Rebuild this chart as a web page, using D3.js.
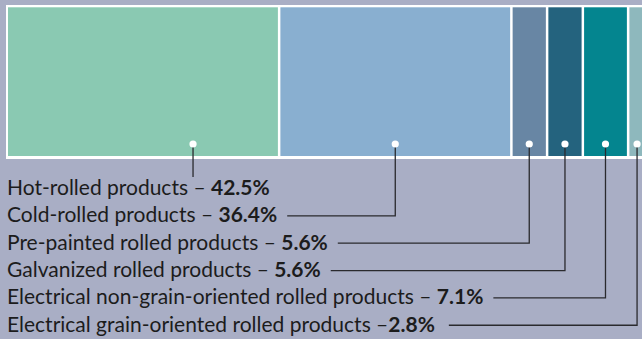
<!DOCTYPE html>
<html>
<head>
<meta charset="utf-8">
<script src="https://cdn.jsdelivr.net/npm/d3@7"></script>
<style>
  html, body { margin: 0; padding: 0; background: #a9aec5; }
  svg { display: block; }
  text { font-family: Lato, sans-serif; }
</style>
</head>
<body>
<svg id="chart" width="642" height="339"></svg>
<script>
// Rolled steel product mix (share of total, %)
const categories = [
  "Hot-rolled products",
  "Cold-rolled products",
  "Pre-painted rolled products",
  "Galvanized rolled products",
  "Electrical non-grain-oriented rolled products",
  "Electrical grain-oriented rolled products"
];
const shares = [42.5, 36.4, 5.6, 5.6, 7.1, 2.8];
const shareLabels = ["42.5%", "36.4%", "5.6%", "5.6%", "7.1%", "2.8%"];
const separators = [" – ", " – ", " – ", " – ", " – ", " –"];
const colors = ["#8ac9b2", "#89afd0", "#6886a4", "#24637e", "#04858f", "#8eb8bd"];

const W = 642, H = 339;
const svg = d3.select("#chart");
const fontFamily = "Lato, sans-serif";

const barTop = 5, barBottom = 159, dotY = 144;
const x = d3.scaleLinear().domain([0, d3.sum(shares)]).range([8, 646]);

// cumulative starts
const starts = [];
shares.reduce((acc, v) => { starts.push(acc); return acc + v; }, 0);
const segs = shares.map((v, i) => ({
  name: categories[i], value: v, start: starts[i], end: starts[i] + v,
  color: colors[i], label: shareLabels[i], sep: separators[i]
}));

// white frame behind the bar
svg.append("rect")
  .attr("x", 6).attr("y", barTop)
  .attr("width", W).attr("height", barBottom - barTop)
  .attr("fill", "#ffffff");

const gap = 1.25;
svg.selectAll("rect.seg").data(segs).join("rect")
  .attr("class", "seg")
  .attr("x", (d, i) => i === 0 ? x(d.start) : x(d.start) + gap)
  .attr("y", barTop + 2.3)
  .attr("width", (d, i) => x(d.end) - x(d.start) - (i === 0 ? gap : 2 * gap))
  .attr("height", barBottom - barTop - 5.3)
  .attr("fill", d => d.color);

// labels
const textX = 7, baseY0 = 195, lineStep = 27.35, fontSize = 21;
const labels = svg.selectAll("text.lab").data(segs).join("text")
  .attr("class", "lab")
  .attr("x", textX)
  .attr("y", (d, i) => baseY0 + i * lineStep)
  .attr("font-size", fontSize)
  .attr("fill", "#1c1c1c");
labels.append("tspan").text(d => d.name + d.sep);
labels.append("tspan").attr("font-weight", "bold").text(d => d.label);

// leader lines
const leaders = svg.append("g")
  .attr("fill", "none")
  .attr("stroke", "#2a2a2e")
  .attr("stroke-width", 1.3);

labels.each(function(d, i) {
  const cx = (x(d.start) + x(d.end)) / 2;
  const baseY = baseY0 + i * lineStep;
  if (i === 0) {
    // first label: drop straight down to the dash after the name
    const tmp = svg.append("text").attr("font-size", fontSize)
      .style("font-family", fontFamily)
      .text(d.name + " ");
    const w = tmp.node().getComputedTextLength();
    tmp.remove();
    const dx = textX + w + 5;
    d.leaderX = dx;
    leaders.append("path").attr("d", `M${dx},${dotY}V${baseY - 18}`);
  } else {
    const end = textX + this.getComputedTextLength() + (i === 5 ? 14 : 10);
    const ly = baseY - 6.5;
    d.leaderX = cx;
    leaders.append("path").attr("d", `M${end},${ly}H${cx}V${dotY}`);
  }
});

svg.selectAll("circle.dot").data(segs).join("circle")
  .attr("class", "dot")
  .attr("cx", d => d.leaderX)
  .attr("cy", dotY)
  .attr("r", 3.6)
  .attr("fill", "#ffffff");
</script>
</body>
</html>
